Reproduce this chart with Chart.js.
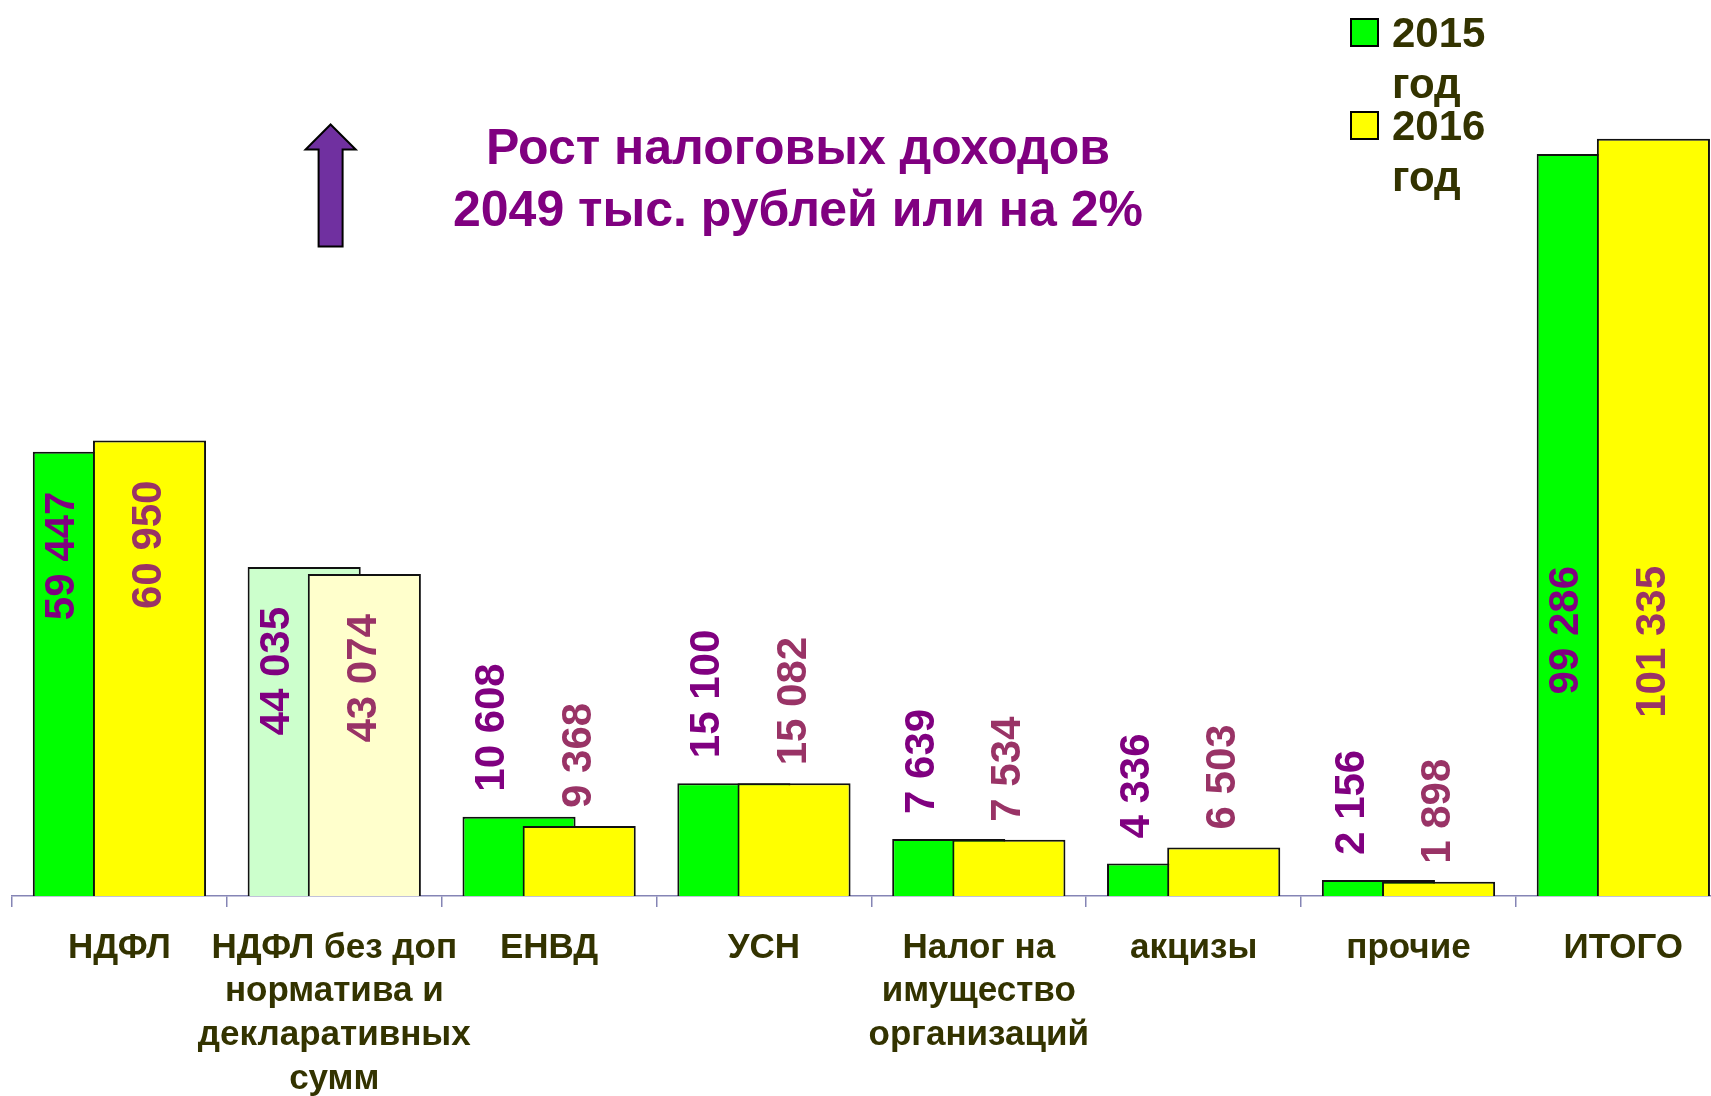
<!DOCTYPE html>
<html>
<head>
<meta charset="utf-8">
<script src="https://cdn.jsdelivr.net/npm/chart.js@4/dist/chart.umd.min.js"></script>
<style>
html,body{margin:0;padding:0;background:#ffffff;}
canvas{display:block;}
</style>
</head>
<body>
<canvas id="c" width="1711" height="1096"></canvas>
<script>
// ---- data ----
const categories = [
  'НДФЛ',
  'НДФЛ без доп\nнорматива и\nдекларативных\nсумм',
  'ЕНВД',
  'УСН',
  'Налог на\nимущество\nорганизаций',
  'акцизы',
  'прочие',
  'ИТОГО'
];
const seriesNames = ['2015 год', '2016 год'];
const values2015 = [59447, 44035, 10608, 15100, 7639, 4336, 2156, 99286];
const values2016 = [60950, 43074, 9368, 15082, 7534, 6503, 1898, 101335];
const titleLines = ['Рост налоговых доходов', '2049 тыс. рублей или на 2%'];

// ---- style ----
const FONT = '"Liberation Sans", Arial, sans-serif';
const PALE_INDEX = 1;             // category drawn with pale colours
const SHIFT = 0.14;               // half distance between the two bars of a group (category units)
const AXIS_COLOR = '#8585b5';
const TEXT_DARK = '#333300';
const green = '#00ff00', paleGreen = '#ccffcc';
const yellow = '#ffff00', paleYellow = '#ffffcc';
const labelColors = ['#800080', '#993366'];
const labelGaps = [25, 18];

const fmt = v => String(v).replace(/\B(?=(\d{3})+(?!\d))/g, ' ');

const valueLabels = {
  id: 'valueLabels',
  afterDatasetsDraw(chart) {
    const ctx = chart.ctx;
    const m1 = chart.getDatasetMeta(1);
    ctx.save();
    ctx.font = 'bold 42px ' + FONT;
    ctx.textBaseline = 'middle';
    chart.data.datasets.forEach((ds, di) => {
      const meta = chart.getDatasetMeta(di);
      ctx.fillStyle = labelColors[di];
      meta.data.forEach((bar, i) => {
        const p = bar.getProps(['x', 'y', 'width', 'base'], true);
        let cx = p.x;
        if (di === 0) {
          const o = m1.data[i].getProps(['x', 'width'], true);
          cx = ((p.x - p.width / 2) + (o.x - o.width / 2)) / 2;
        }
        const h = p.base - p.y;
        const text = fmt(ds.data[i].y);
        ctx.save();
        if (h < 250) {
          ctx.translate(cx, p.y - labelGaps[di]);
          ctx.rotate(-Math.PI / 2);
          ctx.textAlign = 'left';
        } else {
          const top = h > 600 ? p.base - 330 : p.y + 40;
          ctx.translate(cx, top);
          ctx.rotate(-Math.PI / 2);
          ctx.textAlign = 'right';
        }
        ctx.fillText(text, 0, 0);
        ctx.restore();
      });
    });
    ctx.restore();
  }
};

const decorations = {
  id: 'decorations',
  afterDraw(chart) {
    const ctx = chart.ctx;
    ctx.save();
    // title
    ctx.fillStyle = '#800080';
    ctx.font = 'bold 50px ' + FONT;
    ctx.textAlign = 'center';
    ctx.textBaseline = 'alphabetic';
    ctx.fillText(titleLines[0], 798, 164);
    ctx.fillText(titleLines[1], 798, 226);
    // arrow
    ctx.beginPath();
    ctx.moveTo(330.6, 124.5);
    ctx.lineTo(355.7, 149.5);
    ctx.lineTo(342.6, 149.5);
    ctx.lineTo(342.6, 246.6);
    ctx.lineTo(318.6, 246.6);
    ctx.lineTo(318.6, 149.5);
    ctx.lineTo(305.6, 149.5);
    ctx.closePath();
    ctx.fillStyle = '#7030a0';
    ctx.fill();
    ctx.lineWidth = 2;
    ctx.strokeStyle = '#000000';
    ctx.stroke();
    // legend
    const sw = [green, yellow];
    const tops = [19, 112];
    ctx.font = 'bold 42px ' + FONT;
    ctx.textAlign = 'left';
    chart.data.datasets.forEach((ds, di) => {
      ctx.fillStyle = sw[di];
      ctx.fillRect(1351, tops[di], 27, 27);
      ctx.lineWidth = 2;
      ctx.strokeStyle = '#000';
      ctx.strokeRect(1351, tops[di], 27, 27);
      ctx.fillStyle = TEXT_DARK;
      const parts = ds.label.split(' ');
      ctx.fillText(parts[0], 1392, tops[di] + 28);
      ctx.fillText(parts.slice(1).join(' '), 1392, tops[di] + 79);
    });
    ctx.restore();
  }
};

new Chart(document.getElementById('c'), {
  type: 'bar',
  data: {
    datasets: [
      {
        label: seriesNames[0],
        data: values2015.map((v, i) => ({ x: i - SHIFT, y: v })),
        backgroundColor: categories.map((c, i) => i === PALE_INDEX ? paleGreen : green),
        borderColor: '#111111',
        borderWidth: 2,
        borderSkipped: 'bottom',
        grouped: false,
        order: 1
      },
      {
        label: seriesNames[1],
        data: values2016.map((v, i) => ({ x: i + SHIFT, y: v })),
        backgroundColor: categories.map((c, i) => i === PALE_INDEX ? paleYellow : yellow),
        borderColor: '#111111',
        borderWidth: 2,
        borderSkipped: 'bottom',
        grouped: false,
        order: 0
      }
    ]
  },
  options: {
    responsive: false,
    animation: false,
    events: [],
    barPercentage: 1.88,
    categoryPercentage: 1,
    layout: { padding: { left: 12, right: 0, top: 3, bottom: 0 } },
    plugins: { legend: { display: false }, tooltip: { enabled: false }, title: { display: false } },
    scales: {
      x: {
        type: 'linear',
        offset: false,
        min: -0.5,
        max: 7.408,
        afterBuildTicks: s => { s.ticks = categories.map((c, i) => ({ value: i })); },
        afterFit: s => { s.height = 200; },
        grid: { offset: true, drawOnChartArea: false, drawTicks: true, tickLength: 11, color: AXIS_COLOR, lineWidth: 1.5 },
        border: { display: true, color: AXIS_COLOR, width: 1.5 },
        ticks: {
          autoSkip: false, maxRotation: 0, minRotation: 0, padding: 19,
          color: TEXT_DARK,
          font: { family: FONT, size: 35, weight: 'bold', lineHeight: 1.25 },
          callback: (v) => (categories[Math.round(v)] || '').split('\n')
        }
      },
      y: {
        display: false,
        min: 0,
        max: 119500
      }
    }
  },
  plugins: [valueLabels, decorations]
});
</script>
</body>
</html>
